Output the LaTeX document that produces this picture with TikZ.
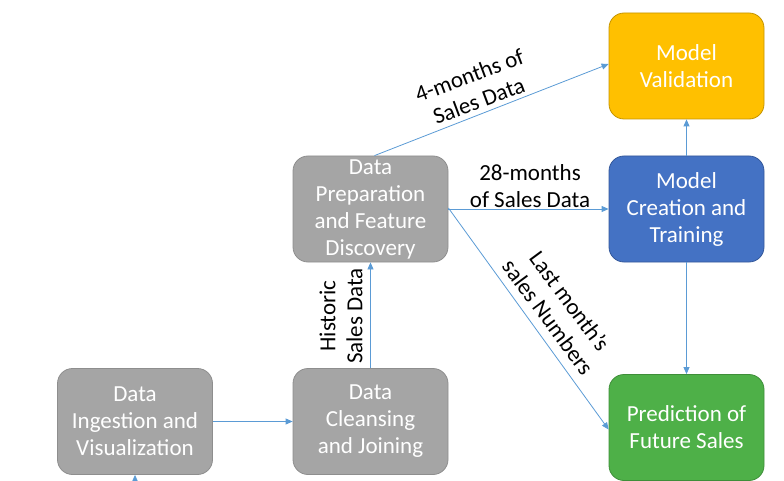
\documentclass[tikz,border=0pt]{standalone}
\usepackage{fontspec}
\setmainfont{Carlito}
\usetikzlibrary{arrows.meta}
\definecolor{boxgray}{HTML}{A5A5A5}
\definecolor{boxgrayb}{HTML}{8E8E8E}
\definecolor{boxyel}{HTML}{FFC000}
\definecolor{boxyelb}{HTML}{C59400}
\definecolor{boxblue}{HTML}{4472C4}
\definecolor{boxblueb}{HTML}{34589A}
\definecolor{boxgreen}{HTML}{4EB048}
\definecolor{boxgreenb}{HTML}{3E8E39}
\definecolor{linkblue}{HTML}{5B9BD5}
\tikzset{
  procbox/.style={rounded corners=15pt, minimum width=155pt, minimum height=106pt,
    inner sep=0pt, align=center, text=white, line width=0.8pt,
    font=\fontsize{23}{27}\selectfont},
  graybox/.style={procbox, fill=boxgray, draw=boxgrayb},
  link/.style={draw=linkblue, line width=0.8pt, -{Triangle[length=7pt,width=6pt]}},
  lbl/.style={align=center, inner sep=0pt, text=black, font=\fontsize{23}{27}\selectfont}
}
\begin{document}
\begin{tikzpicture}[x=1pt,y=-1pt]
\useasboundingbox (0,0) rectangle (784,481);
\node[graybox] (ing) at (135,421.5) {Data\\Ingestion and\\Visualization};
\node[graybox] (cln) at (370.5,421.5) {Data\\Cleansing\\and Joining};
\node[graybox] (prep) at (370.5,209) {Data\\Preparation\\and Feature\\Discovery};
\node[procbox, fill=boxyel, draw=boxyelb] (val) at (686.5,66) {Model\\Validation};
\node[procbox, fill=boxblue, draw=boxblueb] (cre) at (686.5,209) {Model\\Creation and\\Training};
\node[procbox, fill=boxgreen, draw=boxgreenb] (pred) at (686.5,427.5) {Prediction of\\Future Sales};
\coordinate (src) at (135,483);
\draw[link] (src) -- (ing.south);
\draw[link] (ing.east) -- (cln.west);
\draw[link] (cln.north) -- (prep.south);
\draw[link] (prep.east) -- (cre.west);
\draw[link] ([xshift=4pt]prep.north) -- ([yshift=2pt]val.west);
\draw[link] ([yshift=1pt]prep.east) -- ([yshift=-2pt]pred.west);
\draw[link] (cre.south) -- (pred.north);
\draw[link] (cre.north) -- (val.south);
\node[lbl, rotate=20.5] (l4) at (474,88) {4-months of\\Sales Data};
\node[lbl] (l28) at (530,186) {28-months\\of Sales Data};
\node[lbl, rotate=90] (lhist) at (341,316) {Historic\\Sales Data};
\node[lbl, rotate=-53.5] (llast) at (559,309) {Last month's\\sales Numbers};
\end{tikzpicture}
\end{document}
